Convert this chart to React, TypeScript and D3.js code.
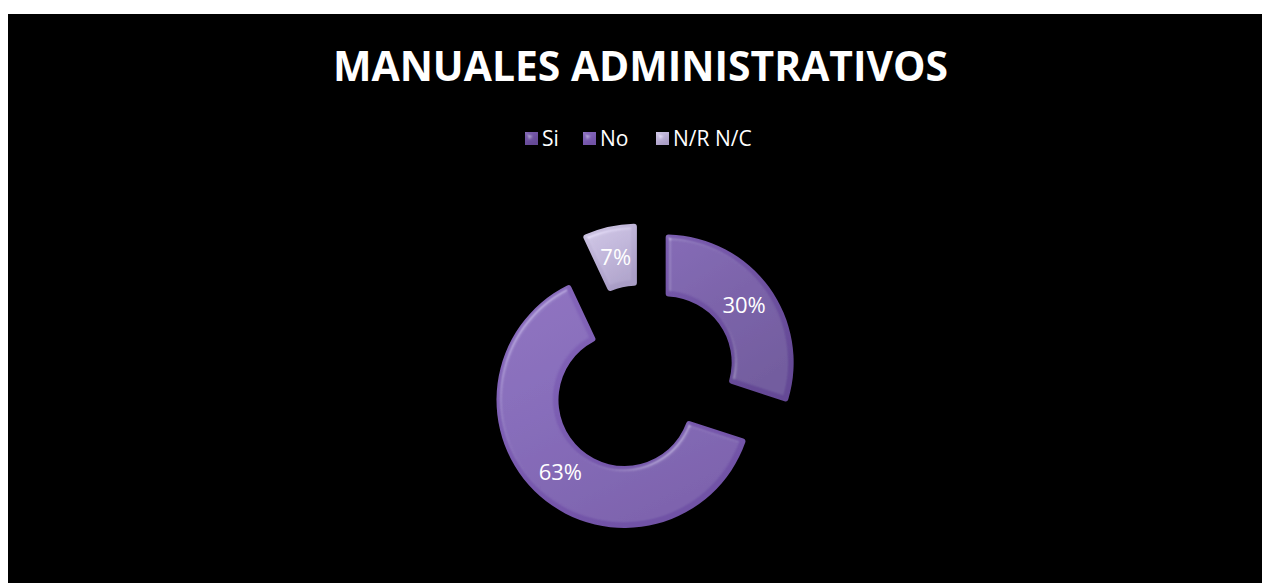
import React from "react";
import * as d3 from "d3";

const categories = ["Si", "No", "N/R N/C"];
const values = [30, 63, 7];
const labels = ["30%", "63%", "7%"];
const title = "MANUALES ADMINISTRATIVOS";

const W = 1262;
const H = 583;

export default function App() {
  const cx = 643;
  const cy = 379;
  const R = 128;
  const r = 66;
  const explode = 28;
  const topColors = ["#7a5caf", "#8667bb", "#cdc4e2"];
  const midColors = ["#6f52a2", "#7c5eb3", "#bcb1d6"];
  const botColors = ["#654a96", "#7152a6", "#a99dc6"];

  const pie = d3.pie<number>().sort(null).startAngle(0).endAngle(2 * Math.PI);
  const arcs = pie(values);
  const arcGen = d3.arc<d3.PieArcDatum<number>>().innerRadius(r).outerRadius(R).cornerRadius(3);

  const legendX = [525, 583, 656];
  const font = "'Open Sans', 'Liberation Sans', sans-serif";

  return (
    <svg width={W} height={H} style={{ position: "absolute", left: 0, top: 0, display: "block" }}>
      <defs>
        <filter id="bevel" x="-10%" y="-10%" width="120%" height="120%">
          <feGaussianBlur in="SourceAlpha" stdDeviation="2.5" result="blur" />
          <feSpecularLighting in="blur" surfaceScale="4" specularConstant="0.35" specularExponent="20" lightingColor="#ffffff" result="spec">
            <feDistantLight azimuth="225" elevation="45" />
          </feSpecularLighting>
          <feComposite in="spec" in2="SourceAlpha" operator="in" result="specIn" />
          <feComposite in="SourceGraphic" in2="specIn" operator="arithmetic" k1="0" k2="1" k3="0.6" k4="0" />
        </filter>
        {midColors.map((c, i) => (
          <linearGradient key={i} id={`g${i}`} x1="0" y1="0" x2="0.5" y2="1">
            <stop offset="0%" stopColor={topColors[i]} />
            <stop offset="50%" stopColor={c} />
            <stop offset="100%" stopColor={botColors[i]} />
          </linearGradient>
        ))}
      </defs>
      <rect x={8} y={14} width={W - 8} height={H - 14} fill="#000" />
      <text
        x={640.5}
        y={81}
        textAnchor="middle"
        fill="#fff"
        fontFamily={font}
        fontWeight="bold"
        fontSize={41}
        textLength={615}
        lengthAdjust="spacingAndGlyphs"
      >
        {title}
      </text>
      {categories.map((c, i) => (
        <g key={c}>
          <rect x={legendX[i]} y={132} width={13} height={13} fill={`url(#g${i})`} filter="url(#bevel)" />
          <text x={legendX[i] + 17} y={146} fill="#fff" fontFamily={font} fontSize={21}>
            {c}
          </text>
        </g>
      ))}
      {arcs.map((a, i) => {
        const mid = (a.startAngle + a.endAngle) / 2;
        const dx = Math.sin(mid) * explode;
        const dy = -Math.cos(mid) * explode;
        const [lx, ly] = arcGen.centroid(a);
        return (
          <g key={i} transform={`translate(${cx + dx},${cy + dy})`}>
            <path d={arcGen(a) || ""} fill={`url(#g${i})`} filter="url(#bevel)" />
            <text
              x={lx}
              y={ly}
              dy="0.35em"
              textAnchor="middle"
              fill="#fff"
              fontFamily={font}
              fontSize={22}
            >
              {labels[i]}
            </text>
          </g>
        );
      })}
    </svg>
  );
}
